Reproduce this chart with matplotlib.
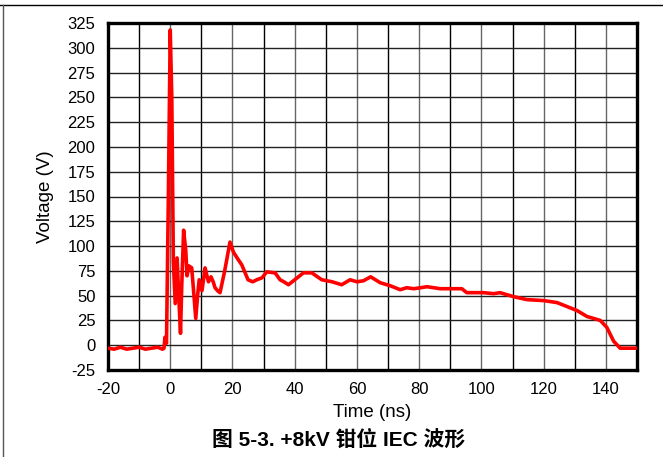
import numpy as np
import matplotlib.pyplot as plt
from matplotlib.lines import Line2D

# trace (time in ns, voltage in V)
time_ns = [-20, -18, -16, -14, -12, -10, -8, -6, -4, -2.5, -2, -1.7, -1.2, -0.6, 0.0, 0.5,
           1.0, 1.6, 2.2, 2.8, 3.3, 3.7, 4.3, 5.0, 5.4, 6.0, 6.9, 7.5, 8.2, 8.8, 9.3, 10.2,
           11.2, 11.8, 12.3, 13.1, 13.8, 14.4, 15.2, 16.0, 17.5, 19.2, 20.3, 21.5, 23.0,
           25.0, 26.5, 27.8, 29.5, 31.0, 33.7, 35.3, 36.5, 38.0, 40.0, 42.8, 45.5, 48.7,
           52.0, 55.1, 57.8, 60.0, 62.1, 64.4, 67.5, 70.7, 73.9, 76.0, 78.2, 80.5, 82.5,
           86.8, 90.0, 93.7, 95.3, 100.7, 103.9, 106.0, 110.3, 114.6, 120.0, 124.3,
           127.5, 130.7, 133.9, 138.2, 140.3, 142.5, 144.6, 147.0, 150.0]
voltage_v = [-3, -4, -2, -4, -3, -2, -4, -3, -2, -4, -3, 8, 2, 150, 318, 250,
             85, 42, 88, 45, 12, 60, 116, 95, 70, 80, 78, 55, 27, 50, 66, 55,
             78, 70, 64, 69, 64, 58, 55, 53, 75, 104, 94, 88, 81,
             66, 64, 66, 68, 74, 73, 66, 64, 61, 66, 73, 73, 66,
             64, 61, 66, 64, 65, 69, 63, 60, 56, 58, 57, 58, 59,
             57, 57, 57, 53, 53, 52, 53, 49, 46, 45, 43,
             39, 35, 29, 25, 18, 4, -3, -3, -3]

x_ticks = [-20, 0, 20, 40, 60, 80, 100, 120, 140]
y_ticks = list(range(-25, 326, 25))

plt.rcParams['font.family'] = ['Liberation Sans', 'Noto Sans CJK SC', 'DejaVu Sans']
plt.rcParams['axes.unicode_minus'] = False

fig = plt.figure(figsize=(6.63, 4.57), dpi=100)
ax = fig.add_axes([108 / 663, 87 / 457, 529 / 663, 347 / 457])

# grid: every 10 ns and every 25 V
for gx in np.arange(-10, 150, 10):
    c = '#000000' if gx % 20 else '#666666'
    ax.axvline(gx, color=c, lw=1.0, zorder=1)
for gy in y_ticks[1:-1]:
    ax.axhline(gy, color='#222222', lw=1.0, zorder=1)

ax.plot(time_ns, voltage_v, color='#ff0000', lw=2.6, zorder=3)

ax.set_xlim(-20, 150)
ax.set_ylim(-25, 325)
ax.set_xticks(x_ticks)
ax.set_yticks(y_ticks)
ax.tick_params(length=0, labelsize=12, pad=9)
for s in ax.spines.values():
    s.set_linewidth(2.4)
    s.set_color('black')

ax.set_xlabel('Time (ns)', fontsize=13.5, labelpad=5)
ax.set_ylabel('Voltage (V)', fontsize=13.5, labelpad=10)

fig.text(0.51, 17 / 457, '图 5-3. +8kV 钳位 IEC 波形', ha='center', va='center',
         fontsize=15, fontweight='bold')

# page frame lines
fig.add_artist(Line2D([0, 1], [1 - 5 / 457, 1 - 5 / 457], color='black', lw=1))
fig.add_artist(Line2D([3 / 663, 3 / 663], [0, 1 - 5 / 457], color='#555555', lw=1))

fig.savefig('out.png', dpi=100)
